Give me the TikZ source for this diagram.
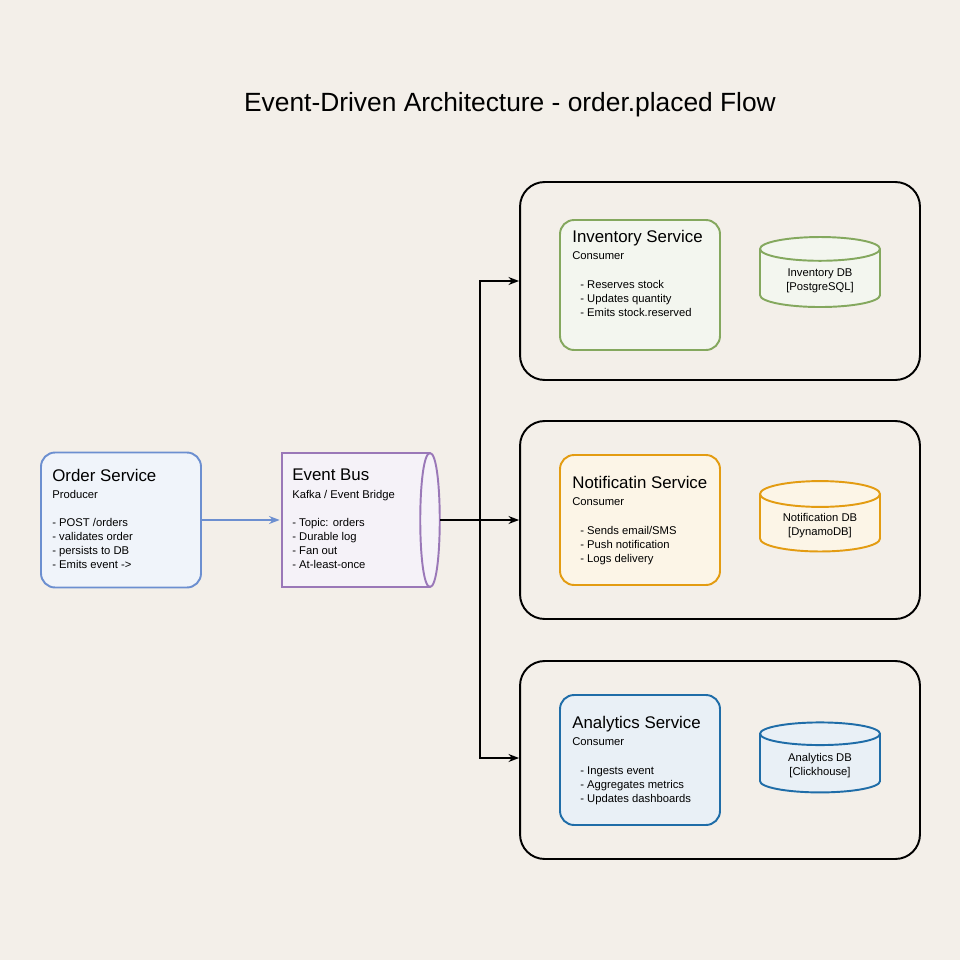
\documentclass[tikz,border=0pt]{standalone}
\usepackage{fontspec}
\setmainfont{Liberation Sans}
\usetikzlibrary{arrows.meta,positioning,shapes.geometric}
\definecolor{paper}{HTML}{F3EFE9}
\definecolor{ordblue}{HTML}{6C8FD0}
\definecolor{buspurple}{HTML}{9A78B8}
\definecolor{invgreen}{HTML}{84A85E}
\definecolor{notorange}{HTML}{E39C12}
\definecolor{anablue}{HTML}{1F6DA8}
\tikzset{
  every node/.style={font=\fontsize{6.4}{8}\selectfont},
  svc/.style={draw=#1, fill=#1!10, line width=1.1pt, rounded corners=8pt, minimum width=3.2cm, minimum height=2.6cm},
  group/.style={draw, line width=1.1pt, rounded corners=14pt, minimum width=8cm, minimum height=3.96cm},
  db/.style={draw=#1, fill=#1!10, line width=1.1pt, cylinder, shape border rotate=90, shape aspect=0.3, minimum width=2.4cm, minimum height=1.4cm, align=center},
  ttl/.style={font=\fontsize{9.6}{11}\selectfont, anchor=north west},
  txt/.style={anchor=north west, align=left, inner sep=0pt},
  arrow/.style={-{Stealth[length=6pt]}, line width=1pt}
}
\begin{document}
\begin{tikzpicture}[x=0.02cm, y=-0.02cm]
\fill[paper] (0,0) rectangle (960,960);

\node[font=\fontsize{15}{18}\selectfont] (title) at (510,105) {Event-Driven Architecture - order.placed Flow};

% producer
\node[svc=ordblue, minimum height=2.7cm] (order) at (121,520) {};
\node[ttl, inner sep=0pt] (ordert) at (52,469) {Order Service};
\node[txt] at (52,490) {Producer};
\node[txt] at (52,518) {- POST /orders\\- validates order\\- persists to DB\\- Emits event ->};

% bus
\node[minimum width=3.2cm, minimum height=2.7cm, inner sep=0pt] (bus) at (360,520) {};
\draw[draw=buspurple, fill=buspurple!10, line width=1.1pt]
  (282,453) -- (430,453) .. controls (443,453) and (443,587) .. (430,587)
  -- (282,587) -- cycle;
\draw[draw=buspurple, line width=1.1pt] (430,453) .. controls (417,453) and (417,587) .. (430,587);
\node[ttl, inner sep=0pt] at (292,469) {Event Bus};
\node[txt] at (292,490) {Kafka / Event Bridge};
\node[txt] at (292,518) {- Topic: orders\\- Durable log\\- Fan out\\- At-least-once};

% consumer groups
\node[group] (ginv) at (720,281) {};
\node[group] (gnot) at (720,520) {};
\node[group] (gana) at (720,760) {};

\node[svc=invgreen] (inv) at (640,285) {};
\node[ttl, inner sep=0pt] at (572,230) {Inventory Service};
\node[txt] at (572,251) {Consumer};
\node[txt] at (580,280) {- Reserves stock\\- Updates quantity\\- Emits stock.reserved};
\node[db=invgreen] (invdb) at (820,281) {Inventory DB\\{[PostgreSQL]}};

\node[svc=notorange] (notif) at (640,520) {};
\node[ttl, inner sep=0pt] at (572,476) {Notificatin Service};
\node[txt] at (572,497) {Consumer};
\node[txt] at (580,526) {- Sends email/SMS\\- Push notification\\- Logs delivery};
\node[db=notorange] (notdb) at (820,526) {Notification DB\\{[DynamoDB]}};

\node[svc=anablue] (ana) at (640,760) {};
\node[ttl, inner sep=0pt] at (572,716) {Analytics Service};
\node[txt] at (572,737) {Consumer};
\node[txt] at (580,766) {- Ingests event\\- Aggregates metrics\\- Updates dashboards};
\node[db=anablue] (anadb) at (820,766) {Analytics DB\\{[Clickhouse]}};

% connections
\coordinate (split) at (480,520);
\draw[arrow, draw=ordblue] (order) -- (bus);
\draw[line width=1.2pt] (bus.east) -- (split);
\draw[arrow] (split) |- (ginv.west |- 0,281);
\draw[arrow] (split) -- (gnot.west);
\draw[arrow] (split) |- (gana.west |- 0,758);
\end{tikzpicture}
\end{document}
